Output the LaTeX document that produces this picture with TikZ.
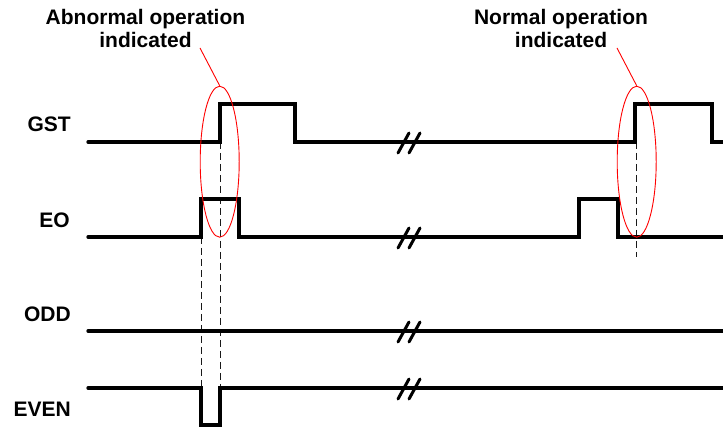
\documentclass[tikz,border=0pt]{standalone}
\usepackage{fontspec}
\setmainfont{Liberation Sans}
\usetikzlibrary{shapes.geometric}
\tikzset{>=latex}
\tikzset{
  sig/.style={line width=3.3pt, line cap=round, line join=miter},
  brk/.style={line width=3pt, line cap=round},
  guide/.style={line width=1pt, dash pattern=on 7pt off 4pt, black!90},
  hilite/.style={draw=red, line width=0.9pt, ellipse, minimum width=39pt, minimum height=151pt, inner sep=0pt},
  lbl/.style={font=\fontsize{21}{23}\selectfont\bfseries, inner sep=0pt},
}

\begin{document}
\begin{tikzpicture}[x=1pt,y=-1pt]

\useasboundingbox (0,0) rectangle (723,427);

% Signal names
\node[lbl, anchor=base east] (gst) at (71,132) {GST};
\node[lbl, anchor=base east] (eo) at (70,228) {EO};
\node[lbl, anchor=base east] (odd) at (71,322) {ODD};
\node[lbl, anchor=base east] (even) at (71,417) {EVEN};

% Notes
\node[lbl, align=center, anchor=north] (abnote) at (145.5,9.5) {Abnormal operation\\indicated};
\node[lbl, align=center, anchor=north] (nmnote) at (561,9.5) {Normal operation\\indicated};

% Dashed guides
\draw[guide] (201,237)--(201,388);
\draw[guide] (220,142)--(220,388);
\draw[guide] (636,142)--(636,257);

% Signals
\draw[sig] (88,142)--(220,142)--(220,104)--(295,104)--(295,142)--(635,142)--(635,104)--(712,104)--(712,142)--(730,142);
\draw[sig] (88,237)--(201,237)--(201,199)--(239,199)--(239,237)--(579,237)--(579,199)--(618,199)--(618,237)--(730,237);
\draw[sig] (88,331)--(730,331);
\draw[sig] (88,388)--(201,388)--(201,425)--(220,425)--(220,388)--(730,388);

% Breaks
\foreach \y in {142,237,331,388}{
  \draw[brk] (398,\y+11)--(409,\y-9);
  \draw[brk] (409,\y+11)--(420,\y-9);
}

% Highlights
\node[hilite] (abring) at (219.7,161.7) {};
\node[hilite] (nmring) at (636.7,161.7) {};
\coordinate (abtip) at (200,48);
\coordinate (nmtip) at (617,48);
\draw[red, line width=0.9pt] (abtip)--(abring.north);
\draw[red, line width=0.9pt] (nmtip)--(nmring.north);

\end{tikzpicture}
\end{document}
